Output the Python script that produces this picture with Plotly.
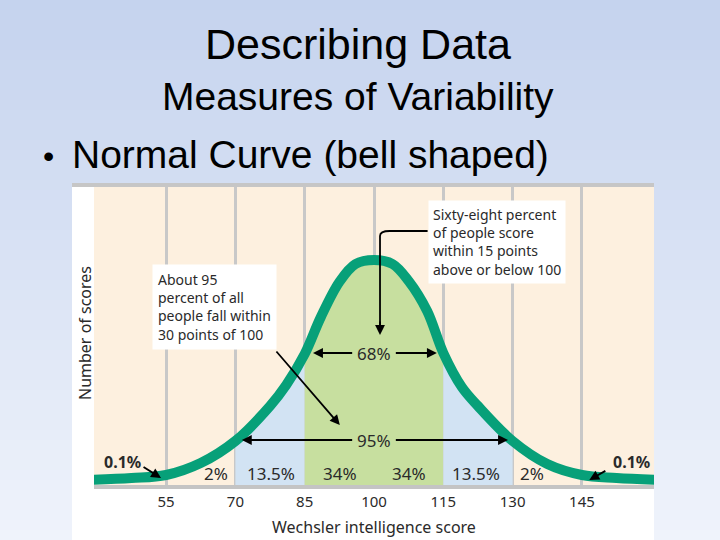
import plotly.graph_objects as go

# ---- data ----
scores = [38, 47.5, 55, 62.5, 70, 77.5, 81, 85, 88.5, 92.5, 96, 100, 104, 107.5, 111.5, 115, 119, 122.5, 130, 137.5, 145, 152.5, 162]
heights = [5, 7, 10, 22, 44, 79, 100, 131, 168, 203, 221, 225, 221, 204, 174, 132, 98, 79, 44, 21, 10, 7, 5]
tick_vals = [55, 70, 85, 100, 115, 130, 145]
band_labels = ["2%", "13.5%", "34%", "34%", "13.5%", "2%"]
band_centers = [65.8, 77.7, 92.6, 107.5, 122.1, 134.3]

W, H = 720, 540
L, R, T, B = 94, 66, 187, 55
pw, ph = W - L - R, H - T - B
XR = [39.4, 160.6]
YR = [0, 298]

FONT = "Noto Sans"
TXT = "#2a2a2a"
CURVE = "#07a079"
GREEN = "#c7df9f"
BLUE = "#d2e3f3"
CREAM = "#fdf0df"

def px(p):   # pixel x -> paper
    return (p - L) / pw
def py(p):   # pixel y -> paper
    return (H - B - p) / ph

fig = go.Figure()

def seg(lo, hi):
    xs = [x for x in scores if lo <= x <= hi]
    ys = [h for x, h in zip(scores, heights) if lo <= x <= hi]
    return xs, ys

for (lo, hi, col) in [(70, 85, BLUE), (85, 115, GREEN), (115, 130, BLUE)]:
    xs, ys = seg(lo, hi)
    fig.add_trace(go.Scatter(x=xs, y=ys, mode="lines", fill="tozeroy", fillcolor=col,
                             line=dict(width=0, shape="spline", color=col), hoverinfo="skip"))

fig.add_trace(go.Scatter(x=scores, y=heights, mode="lines",
                         line=dict(color=CURVE, width=10, shape="spline"), hoverinfo="skip"))

# ---- background shapes (slide gradient, white figure, cream plot) ----
shapes = []
n = 54
top = (197, 211, 238)
bot = (239, 243, 251)
for i in range(n):
    t = i / (n - 1)
    c = tuple(round(top[k] + (bot[k] - top[k]) * t) for k in range(3))
    y0p = i * H / n
    y1p = (i + 1) * H / n + 1
    shapes.append(dict(type="rect", xref="paper", yref="paper", layer="below",
                       x0=px(-5), x1=px(W + 5), y0=py(y1p), y1=py(y0p),
                       line=dict(width=0), fillcolor="rgb(%d,%d,%d)" % c))
shapes.append(dict(type="rect", xref="paper", yref="paper", layer="below",
                   x0=px(72), x1=px(654), y0=py(H + 5), y1=py(183),
                   line=dict(width=0), fillcolor="white"))
shapes.append(dict(type="rect", xref="paper", yref="paper", layer="below",
                   x0=0, x1=1, y0=0, y1=1, line=dict(width=0), fillcolor=CREAM))
shapes.append(dict(type="rect", xref="paper", yref="paper", layer="above",
                   x0=px(72), x1=px(654), y0=py(187), y1=py(183),
                   line=dict(width=0), fillcolor="#c6c6c6"))
# bent arrow line from the 68% box
shapes.append(dict(type="path", xref="x", yref="y", layer="above",
                   path="M 111.6,254 L 103.4,254 Q 101.3,254 101.3,249 L 101.3,160",
                   line=dict(color="black", width=1.8)))
fig.update_layout(shapes=shapes)

ann = []
# slide titles
ann.append(dict(xref="paper", yref="paper", x=px(358), y=py(44), text="Describing Data",
                showarrow=False, font=dict(family="Liberation Sans", size=43, color="black"),
                xanchor="center", yanchor="middle"))
ann.append(dict(xref="paper", yref="paper", x=px(358), y=py(96), text="Measures of Variability",
                showarrow=False, font=dict(family="Liberation Sans", size=39, color="black"),
                xanchor="center", yanchor="middle"))
ann.append(dict(xref="paper", yref="paper", x=px(48), y=py(156), text="•",
                showarrow=False, font=dict(family="Liberation Sans", size=32, color="black"),
                xanchor="center", yanchor="middle"))
ann.append(dict(xref="paper", yref="paper", x=px(70), y=py(155), text="Normal Curve (bell shaped)",
                showarrow=False, font=dict(family="Liberation Sans", size=39, color="black"),
                xanchor="left", yanchor="middle"))
# axis titles
ann.append(dict(xref="paper", yref="paper", x=px(85), y=py(333), text="Number of scores",
                textangle=-90, showarrow=False, font=dict(family=FONT, size=16, color=TXT),
                xanchor="center", yanchor="middle"))
ann.append(dict(xref="paper", yref="paper", x=0.5, y=py(527), text="Wechsler intelligence score",
                showarrow=False, font=dict(family=FONT, size=16, color=TXT),
                xanchor="center", yanchor="middle"))
# band percentages
for xc, lab in zip(band_centers, band_labels):
    ann.append(dict(x=xc, y=12, text=lab, showarrow=False, xanchor="center", yanchor="middle",
                    font=dict(family=FONT, size=17, color=TXT)))
# center labels
ann.append(dict(x=100, y=132, text="68%", showarrow=False, font=dict(family=FONT, size=17, color=TXT)))
ann.append(dict(x=100, y=45, text="95%", showarrow=False, font=dict(family=FONT, size=17, color=TXT)))
ann.append(dict(x=45.5, y=23, text="<b>0.1%</b>", showarrow=False, font=dict(family=FONT, size=16, color=TXT)))
ann.append(dict(x=155.8, y=23, text="<b>0.1%</b>", showarrow=False, font=dict(family=FONT, size=16, color=TXT)))

def arrow(x, y, ax, ay):
    ann.append(dict(x=x, y=y, ax=ax, ay=ay, xref="x", yref="y", axref="x", ayref="y", text="",
                    showarrow=True, arrowhead=2, arrowsize=1.1, arrowwidth=1.8, arrowcolor="black"))

arrow(86.8, 132, 95.6, 132)
arrow(113.6, 132, 104.4, 132)
arrow(71.4, 45, 95.6, 45)
arrow(129.0, 45, 104.4, 45)
arrow(92.6, 60, 78.6, 135)
arrow(101.3, 150, 101.3, 165)
arrow(53.9, 7, 49.8, 19)
arrow(146.6, 5, 150.4, 15)

# text boxes
ann.append(dict(xref="paper", yref="paper", x=px(152), y=py(264), xanchor="left", yanchor="top",
                text="About 95<br>percent of all<br>people fall within<br>30 points of 100",
                align="left", showarrow=False, bgcolor="white", borderpad=5,
                font=dict(family=FONT, size=14, color=TXT)))
ann.append(dict(xref="paper", yref="paper", x=px(428), y=py(200), xanchor="left", yanchor="top",
                text="Sixty-eight percent<br>of people score<br>within 15 points<br>above or below 100",
                align="left", showarrow=False, bgcolor="white", borderpad=4,
                font=dict(family=FONT, size=14, color=TXT)))

fig.update_layout(
    annotations=ann,
    width=W, height=H,
    margin=dict(l=L, r=R, t=T, b=B, pad=0),
    paper_bgcolor="white", plot_bgcolor=CREAM,
    showlegend=False,
    xaxis=dict(range=XR, tickvals=tick_vals, ticktext=[str(v) for v in tick_vals],
               showgrid=True, gridcolor="#c8c8c8", gridwidth=3, zeroline=False,
               showline=True, linecolor="#c4c4c4", linewidth=4, ticks="",
               tickfont=dict(family=FONT, size=15, color=TXT), fixedrange=True),
    yaxis=dict(range=YR, showgrid=False, zeroline=False, showticklabels=False,
               showline=False, fixedrange=True),
)

fig.write_html("out.html", config={"displayModeBar": False},
               post_script="document.body.style.margin='0';document.body.style.overflow='hidden';")
